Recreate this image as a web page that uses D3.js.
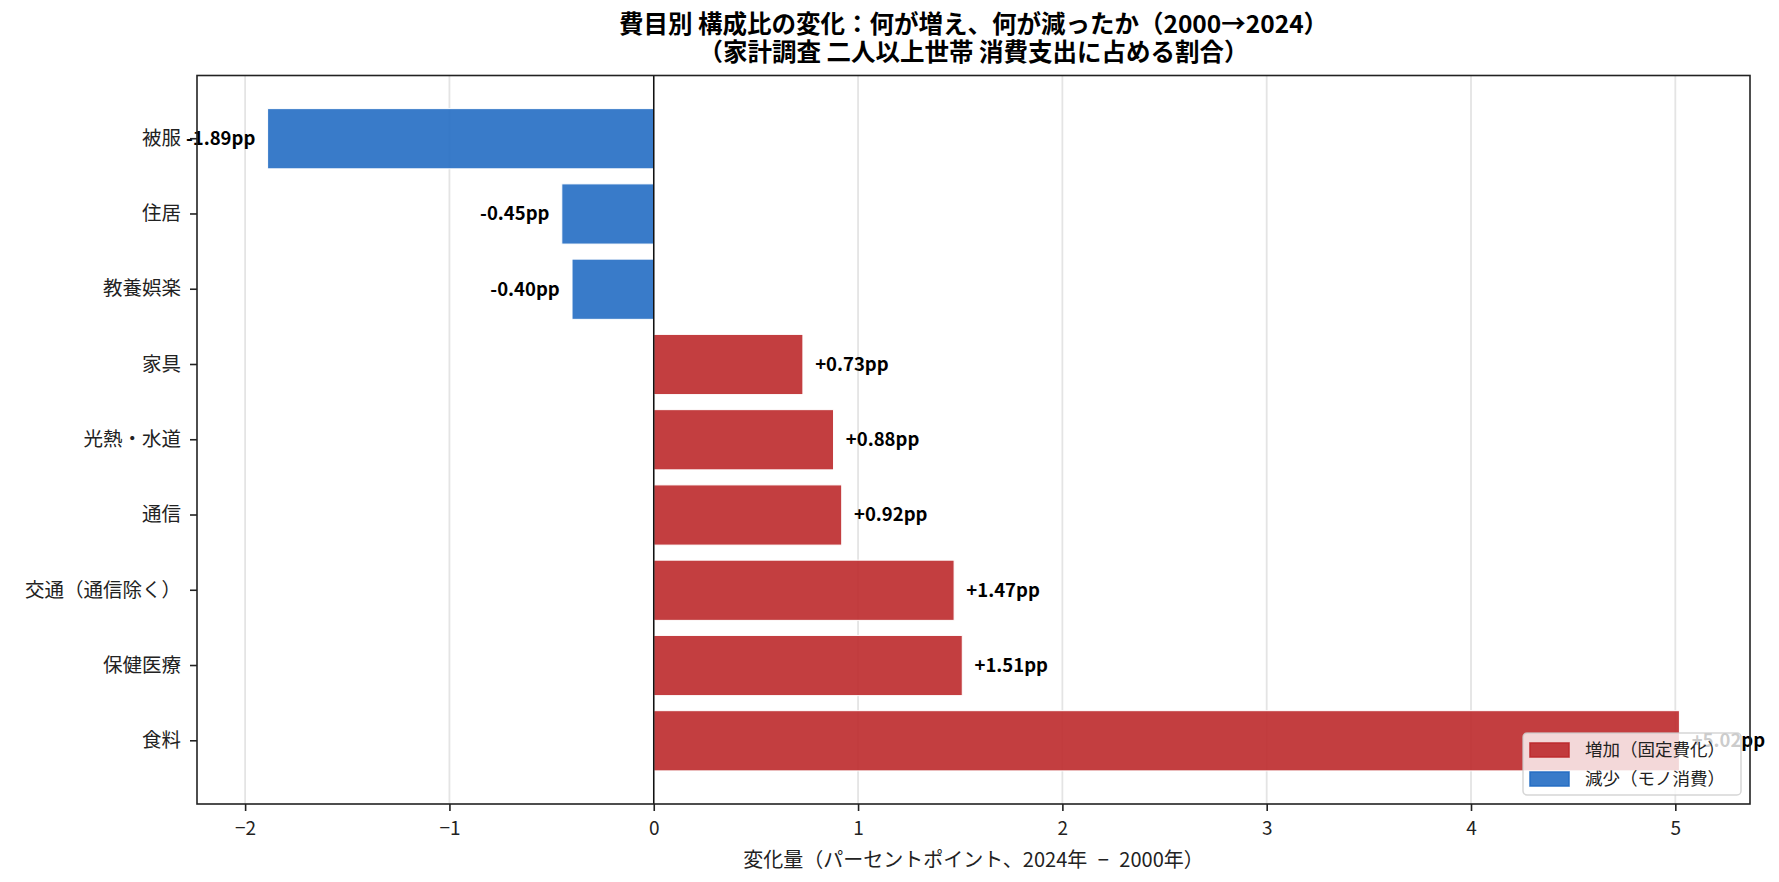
<!DOCTYPE html>
<html lang="ja">
<head>
<meta charset="utf-8">
<style>
  body { margin: 0; background: #fff; }
  svg text { font-family: "Noto Sans CJK JP", "Noto Sans", sans-serif; }
  .axis path.domain { display: none; }
  .axis line { stroke: #222; stroke-width: 1.6; }
  .axis text { font-size: 19px; fill: #222; }
  .y.axis text { font-size: 19.5px; }
</style>
<script src="https://d3js.org/d3.v7.min.js" charset="utf-8"></script>
</head>
<body>

<script>
  // top to bottom, as drawn
  let categories = ["被服", "住居", "教養娯楽", "家具", "光熱・水道", "通信", "交通（通信除く）", "保健医療", "食料"];
  let changes = [-1.89, -0.45, -0.40, 0.73, 0.88, 0.92, 1.47, 1.51, 5.02];
  let xTicks = [-2, -1, 0, 1, 2, 3, 4, 5];
  let legendLabels = ["増加（固定費化）", "減少（モノ消費）"];

  let titleLines = ["費目別 構成比の変化：何が増え、何が減ったか（2000→2024）",
                    "（家計調査 二人以上世帯 消費支出に占める割合）"];
  let xLabel = "変化量（パーセントポイント、2024年 − 2000年）";

  let data = categories.map(function(c, i) { return {name: c, value: changes[i]}; });

  let W = 1779, H = 882;
  let plotLeft = 197, plotRight = 1750, plotTop = 75.5, plotBottom = 804;

  let red = "#bc292b";
  let blue = "#246dc3";

  let svg = d3.select("body")
    .append("svg")
    .attr("width", W)
    .attr("height", H);

  let lo = d3.min(changes), hi = d3.max(changes);
  let pad = (hi - lo) * 0.05;

  let x = d3.scaleLinear()
    .domain([lo - pad, hi + pad])
    .range([plotLeft, plotRight]);

  let y = d3.scaleBand()
    .domain(categories)
    .range([plotTop, plotBottom])
    .paddingInner(0.2)
    .paddingOuter(0.44);

  // grid
  svg.append("g")
    .selectAll("line")
    .data(xTicks)
    .join("line")
    .attr("x1", function(d) { return x(d); })
    .attr("x2", function(d) { return x(d); })
    .attr("y1", plotTop)
    .attr("y2", plotBottom)
    .style("stroke", "#e4e4e4")
    .style("stroke-width", 1.8);

  // bars
  svg.append("g")
    .selectAll("rect")
    .data(data)
    .join("rect")
    .attr("x", function(d) { return x(Math.min(0, d.value)); })
    .attr("y", function(d) { return y(d.name); })
    .attr("width", function(d) { return Math.abs(x(d.value) - x(0)); })
    .attr("height", y.bandwidth())
    .style("fill", function(d) { return d.value >= 0 ? red : blue; })
    .style("fill-opacity", 0.9)
    .style("stroke", "#fff")
    .style("stroke-width", 1);

  // zero line
  svg.append("line")
    .attr("x1", x(0))
    .attr("x2", x(0))
    .attr("y1", plotTop)
    .attr("y2", plotBottom)
    .style("stroke", "#111")
    .style("stroke-width", 1.5);

  // value labels
  svg.append("g")
    .selectAll("text")
    .data(data)
    .join("text")
    .attr("x", function(d) { return d.value >= 0 ? x(d.value + 0.06) : x(d.value - 0.06); })
    .attr("y", function(d) { return y(d.name) + y.bandwidth() / 2; })
    .attr("dy", "0.35em")
    .attr("text-anchor", function(d) { return d.value >= 0 ? "start" : "end"; })
    .style("font-size", "18.5px")
    .style("font-weight", "bold")
    .style("fill", "#000")
    .text(function(d) { return (d.value >= 0 ? "+" : "-") + Math.abs(d.value).toFixed(2) + "pp"; });

  // axes
  svg.append("g")
    .attr("class", "x axis")
    .attr("transform", "translate(0," + plotBottom + ")")
    .call(d3.axisBottom(x).tickValues(xTicks).tickSize(7).tickPadding(11));

  svg.append("g")
    .attr("class", "y axis")
    .attr("transform", "translate(" + plotLeft + ",0)")
    .call(d3.axisLeft(y).tickSize(7).tickPadding(9));

  // spines
  svg.append("rect")
    .attr("x", plotLeft)
    .attr("y", plotTop)
    .attr("width", plotRight - plotLeft)
    .attr("height", plotBottom - plotTop)
    .style("fill", "none")
    .style("stroke", "#222")
    .style("stroke-width", 1.6);

  // legend
  let legend = svg.append("g")
    .attr("transform", "translate(1523,733)");

  legend.append("rect")
    .attr("width", 218)
    .attr("height", 62)
    .attr("rx", 4)
    .style("fill", "#fff")
    .style("fill-opacity", 0.8)
    .style("stroke", "#ccc")
    .style("stroke-opacity", 0.8)
    .style("stroke-width", 1.5);

  let entries = legend.selectAll("g.entry")
    .data(legendLabels)
    .join("g")
    .attr("class", "entry")
    .attr("transform", function(d, i) { return "translate(0," + (17 + i * 29) + ")"; });

  entries.append("rect")
    .attr("x", 7)
    .attr("y", -7)
    .attr("width", 39)
    .attr("height", 14)
    .style("fill", function(d, i) { return i === 0 ? red : blue; })
    .style("fill-opacity", 0.9)
    .style("stroke", function(d, i) { return i === 0 ? red : blue; })
    .style("stroke-opacity", 0.9)
    .style("stroke-width", 1.6);

  entries.append("text")
    .attr("x", 62)
    .attr("dy", "0.36em")
    .style("font-size", "17.5px")
    .style("fill", "#222")
    .text(function(d) { return d; });

  // title
  svg.append("g")
    .selectAll("text")
    .data(titleLines)
    .join("text")
    .attr("x", (plotLeft + plotRight) / 2)
    .attr("y", function(d, i) { return 33 + i * 28; })
    .attr("text-anchor", "middle")
    .style("font-size", "24.5px")
    .style("font-weight", "bold")
    .style("fill", "#000")
    .text(function(d) { return d; });

  // x label
  svg.append("text")
    .attr("x", (plotLeft + plotRight) / 2)
    .attr("y", 867)
    .attr("text-anchor", "middle")
    .style("font-size", "20px")
    .style("word-spacing", "6px")
    .style("fill", "#222")
    .text(xLabel);

</script>

</body>
</html>
